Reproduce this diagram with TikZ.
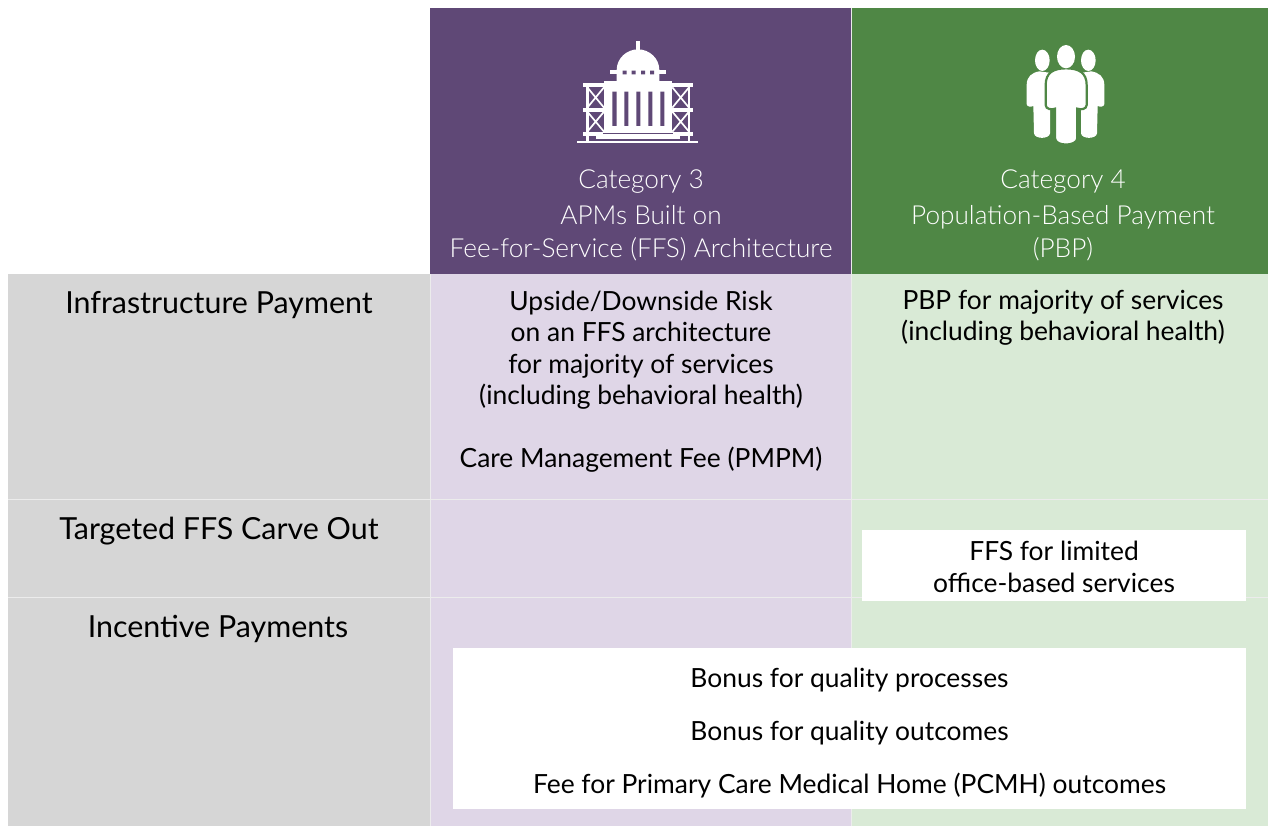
\documentclass[tikz,border=0pt]{standalone}
\usepackage{fontspec}
\setmainfont{Lato}
\newfontfamily\lightfont{Lato Light}
\definecolor{cpurple}{HTML}{5F4876}
\definecolor{cgreen}{HTML}{4F8745}
\definecolor{lpurple}{HTML}{DFD6E7}
\definecolor{lgreen}{HTML}{D9EAD6}
\definecolor{cgray}{HTML}{D6D6D6}
\definecolor{cline}{HTML}{ECECEC}
\tikzset{
  cell/.style={fill=#1,draw=none,inner sep=0pt,outer sep=0pt,anchor=north west},
  head/.style={anchor=center,align=center,text=white,font=\fontsize{26.2}{33}\selectfont\lightfont,inner sep=0pt},
  rowlab/.style={anchor=center,align=center,text=black,font=\fontsize{30.4}{32}\selectfont,inner sep=0pt},
  body/.style={anchor=center,align=center,text=black,font=\fontsize{26.4}{31.5}\selectfont,inner sep=0pt},
  divider/.style={draw=cline,line width=0.8pt},
}
\begin{document}
\begin{tikzpicture}[x=1pt,y=-1pt]
\useasboundingbox (0,0) rectangle (1268,826);
% cells
\node[cell=cpurple,minimum width=421.5pt,minimum height=266pt] (h3) at (430,8) {};
\node[cell=cgreen,minimum width=416.5pt,minimum height=266pt] (h4) at (851.5,8) {};
\node[cell=cgray,minimum width=422pt,minimum height=552pt] (side) at (8,274) {};
\node[cell=lpurple,minimum width=421.5pt,minimum height=552pt] (col3) at (430,274) {};
\node[cell=lgreen,minimum width=416.5pt,minimum height=552pt] (col4) at (851.5,274) {};
% dividers
\coordinate (d1l) at (8,499); \coordinate (d1r) at (1268,499);
\coordinate (d2l) at (8,597); \coordinate (d2r) at (1268,597);
\draw[divider] (d1l) -- (d1r);
\draw[divider] (d2l) -- (d2r);
\draw[divider] (col3.north west) -- (col3.south west);
\draw[divider] (col4.north west) -- (col4.south west);
\draw[divider] (h4.north west) -- (h4.south west);
% white boxes
\node[cell=white,minimum width=384pt,minimum height=71pt] (ffsbox) at (862,530) {};
\node[cell=white,minimum width=793.5pt,minimum height=161pt] (bonusbox) at (452.5,648) {};
% header text
\node[head] (t3) at (641,215.5) {Category 3\\[3pt]APMs Built on\\Fee-for-Service (FFS) Architecture};
\node[head] (t4) at (1063,215.5) {Category 4\\[3pt]Population-Based Payment\\(PBP)};
% row labels
\node[rowlab] (r1) at (219,305) {Infrastructure Payment};
\node[rowlab] (r2) at (219,531) {Targeted FFS Carve Out};
\node[rowlab] (r3) at (218,629) {Incentive Payments};
% body
\node[body] (b1) at (641,381.5) {Upside/Downside Risk\\on an FFS architecture\\for majority of services\\(including behavioral health)\\[31.5pt]Care Management Fee (PMPM)};
\node[body] (b2) at (1063,318) {PBP for majority of services\\(including behavioral health)};
\node[body] (b3) at (1054,567) {FFS for limited\\office-based services};
\node[body] (b4) at (849.5,680) {Bonus for quality processes};
\node[body] (b5) at (849.5,733) {Bonus for quality outcomes};
\node[body] (b6) at (849.5,786) {Fee for Primary Care Medical Home (PCMH) outcomes};
% building icon
\begin{scope}[shift={(560,30)},x=1pt/3,y=-1pt/3]
 \fill[white] (228,70) -- (228,33) -- (240,33) -- (240,70) -- cycle;
 \fill[white] (170,120) .. controls (170,85) and (200,58) .. (234,58) .. controls (268,58) and (298,85) .. (298,120) -- (298,155) -- (170,155) -- cycle;
 \fill[white] (150,120) rectangle (318,132);
 \fill[white] (132,153) rectangle (337,308);
 \fill[white] (68,160) rectangle (132,172);
 \fill[white] (337,160) rectangle (400,172);
 \fill[white] (68,233) rectangle (132,245);
 \fill[white] (337,233) rectangle (400,245);
 \fill[white] (78,160) rectangle (86,335);
 \fill[white] (383,160) rectangle (391,335);
 \fill[white] (68,305) rectangle (400,318);
 \fill[white] (108,318) rectangle (360,326);
 \fill[white] (50,332) rectangle (413,339);
 \fill[cpurple] (130,309) rectangle (338,313);
 \draw[white,line width=1.7pt] (82,172) -- (132,233) (132,172) -- (82,233) (82,245) -- (132,305) (132,245) -- (82,305);
 \draw[white,line width=1.7pt] (337,172) -- (387,233) (387,172) -- (337,233) (337,245) -- (387,305) (387,245) -- (337,305);
 \fill[cpurple] (188,122) rectangle (200,133) (215,122) rectangle (227,133) (243,122) rectangle (255,133) (270,122) rectangle (282,133);
 \fill[cpurple] (157,185) rectangle (170,288) (193,185) rectangle (205,288) (229,185) rectangle (241,288) (265,185) rectangle (277,288) (301,185) rectangle (313,288);
\end{scope}
% people icon
\begin{scope}[shift={(1000,30)},x=1pt/3,y=-1pt/3]
 \fill[white] (127,91) ellipse [x radius=22,y radius=32];
 \fill[white] (265,91) ellipse [x radius=22,y radius=32];
 \fill[white] (118,124) .. controls (95,128) and (80,140) .. (80,165) -- (80,222) .. controls (80,230) and (92,232) .. (100,228) -- (102,310) .. controls (104,328) and (148,328) .. (150,310) -- (150,240) -- (160,130) -- cycle;
 \fill[white] (274,124) .. controls (297,128) and (313,140) .. (313,165) -- (313,222) .. controls (313,230) and (301,232) .. (293,228) -- (291,310) .. controls (289,328) and (245,328) .. (243,310) -- (243,240) -- (233,130) -- cycle;
 \fill[white,draw=cgreen,line width=2.2pt] (198,115) .. controls (160,115) and (137,128) .. (137,165) -- (137,225) .. controls (137,238) and (155,240) .. (165,236) -- (165,325) .. controls (166,350) and (230,350) .. (232,325) -- (232,236) .. controls (242,240) and (260,238) .. (260,225) -- (260,165) .. controls (260,128) and (236,115) .. (198,115) -- cycle;
 \fill[white] (198,80) ellipse [x radius=27,y radius=35];
\end{scope}
\end{tikzpicture}
\end{document}
